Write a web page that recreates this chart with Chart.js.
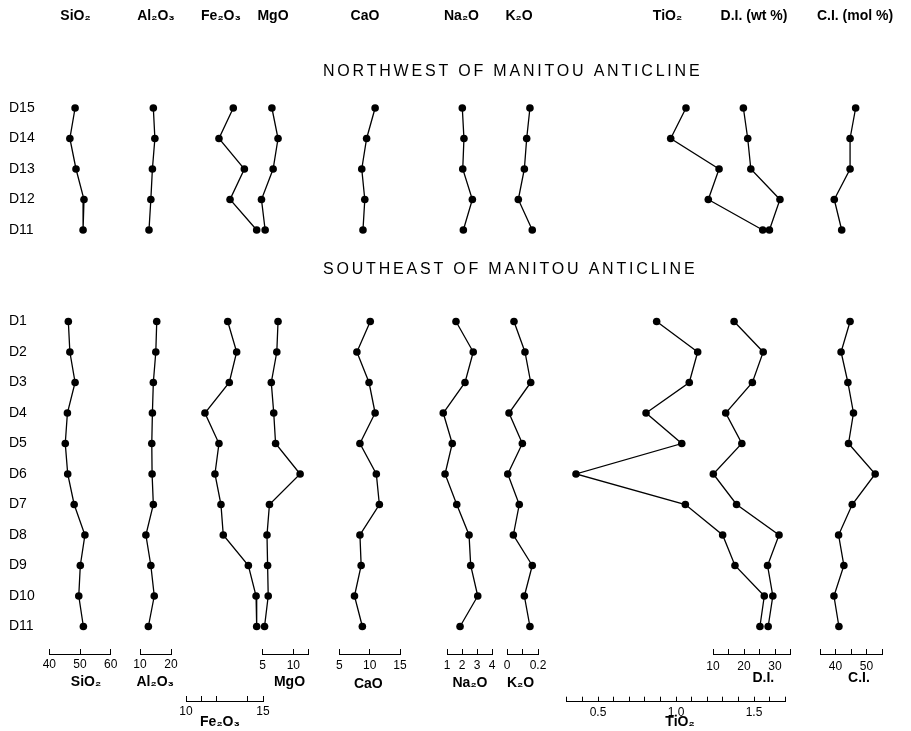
<!DOCTYPE html>
<html>
<head>
<meta charset="utf-8">
<script src="https://cdn.jsdelivr.net/npm/chart.js@4.4.1/dist/chart.umd.min.js"></script>
<style>
  html, body { margin: 0; padding: 0; background: #fff; overflow: hidden; width: 911px; height: 731px; }
  #wrap { position: relative; width: 911px; height: 731px; }
  #wrap canvas { position: absolute; left: 0; top: 0; }
</style>
</head>
<body>
<div id="wrap"></div>
<script>
// ---------------- DATA ----------------
const nwSamples = ['D15', 'D14', 'D13', 'D12', 'D11'];
const seSamples = ['D1', 'D2', 'D3', 'D4', 'D5', 'D6', 'D7', 'D8', 'D9', 'D10', 'D11'];
const rowLabels = [...nwSamples, '', '', ...seSamples];
const sectionTitles = ['NORTHWEST OF MANITOU ANTICLINE', 'SOUTHEAST OF MANITOU ANTICLINE'];

const sio2NW  = [48.4, 46.7, 48.7, 51.3, 51.0];
const sio2SE  = [46.2, 46.7, 48.4, 45.9, 45.2, 46.0, 48.1, 51.6, 50.1, 49.6, 51.1];
const al2o3NW = [14.3, 14.8, 14.0, 13.5, 12.9];
const al2o3SE = [15.4, 15.1, 14.3, 14.0, 13.8, 13.9, 14.3, 11.9, 13.5, 14.6, 12.7];
const fe2o3NW = [13.07, 12.14, 13.79, 12.86, 14.59];
const fe2o3SE = [12.71, 13.29, 12.81, 11.23, 12.14, 11.88, 12.27, 12.42, 14.05, 14.55, 14.59];
const mgoNW   = [6.5, 7.5, 6.7, 4.8, 5.4];
const mgoSE   = [7.5, 7.3, 6.4, 6.8, 7.1, 11.1, 6.1, 5.7, 5.8, 5.9, 5.3];
const caoNW   = [10.9, 9.5, 8.7, 9.2, 8.9];
const caoSE   = [10.1, 7.9, 9.9, 10.9, 8.4, 11.1, 11.6, 8.4, 8.6, 7.5, 8.8];
const na2oNW  = [2.02, 2.13, 2.05, 2.69, 2.09];
const na2oSE  = [1.6, 2.75, 2.2, 0.75, 1.35, 0.87, 1.65, 2.47, 2.58, 3.05, 1.87];
const k2oNW   = [0.148, 0.127, 0.112, 0.073, 0.163];
const k2oSE   = [0.045, 0.116, 0.153, 0.013, 0.099, 0.005, 0.079, 0.041, 0.163, 0.112, 0.148];
const tio2NW  = [1.064, 0.966, 1.276, 1.207, 1.556];
const tio2SE  = [0.876, 1.139, 1.085, 0.808, 1.037, 0.359, 1.06, 1.299, 1.378, 1.566, 1.538];
const diNW    = [19.8, 21.2, 22.2, 31.6, 28.2];
const diSE    = [16.8, 26.2, 22.7, 14.1, 19.3, 10.1, 17.6, 31.3, 27.6, 29.3, 27.8];
const ciNW    = [46.5, 44.7, 44.7, 39.6, 42.0];
const ciSE    = [44.7, 41.8, 44.0, 45.8, 44.2, 52.8, 45.4, 41.0, 42.7, 39.5, 41.1];

// tick values and tick labels
const sio2Ticks = [40, 50, 60];              const sio2TickLabels = ['40', '50', '60'];
const al2o3Ticks = [10, 20];                 const al2o3TickLabels = ['10', '20'];
const fe2o3Ticks = [10, 11, 12, 14, 15];     const fe2o3TickLabels = ['10', '', '', '', '15'];
const mgoTicks = [5, 10, 12.5];              const mgoTickLabels = ['5', '10', ''];
const caoTicks = [5, 10, 15];                const caoTickLabels = ['5', '10', '15'];
const na2oTicks = [1, 2, 3, 4];              const na2oTickLabels = ['1', '2', '3', '4'];
const k2oTicks = [0, 0.1, 0.2];              const k2oTickLabels = ['0', '', '0.2'];
const tio2Ticks = [0.3, 0.4, 0.5, 0.6, 0.7, 0.8, 0.9, 1.0, 1.1, 1.2, 1.3, 1.4, 1.5, 1.6, 1.7];
const tio2TickLabels = ['', '', '0.5', '', '', '', '', '1.0', '', '', '', '', '1.5', '', ''];
const diTicks = [10, 15, 20, 25, 30, 35];    const diTickLabels = ['10', '', '20', '', '30', ''];
const ciTicks = [35, 40, 45, 50, 55];        const ciTickLabels = ['', '40', '', '50', ''];

const variables = [
  { id: 'sio2',  header: 'SiO₂',  axisTitle: 'SiO₂',  nw: sio2NW,  se: sio2SE,  min: 40,  max: 60,   ticks: sio2Ticks,  tickLabels: sio2TickLabels },
  { id: 'al2o3', header: 'Al₂O₃', axisTitle: 'Al₂O₃', nw: al2o3NW, se: al2o3SE, min: 10,  max: 20,   ticks: al2o3Ticks, tickLabels: al2o3TickLabels },
  { id: 'fe2o3', header: 'Fe₂O₃', axisTitle: 'Fe₂O₃', nw: fe2o3NW, se: fe2o3SE, min: 10,  max: 15,   ticks: fe2o3Ticks, tickLabels: fe2o3TickLabels },
  { id: 'mgo',   header: 'MgO',   axisTitle: 'MgO',   nw: mgoNW,   se: mgoSE,   min: 5,   max: 12.5, ticks: mgoTicks,   tickLabels: mgoTickLabels },
  { id: 'cao',   header: 'CaO',   axisTitle: 'CaO',   nw: caoNW,   se: caoSE,   min: 5,   max: 15,   ticks: caoTicks,   tickLabels: caoTickLabels },
  { id: 'na2o',  header: 'Na₂O',  axisTitle: 'Na₂O',  nw: na2oNW,  se: na2oSE,  min: 1,   max: 4,    ticks: na2oTicks,  tickLabels: na2oTickLabels },
  { id: 'k2o',   header: 'K₂O',   axisTitle: 'K₂O',   nw: k2oNW,   se: k2oSE,   min: 0,   max: 0.2,  ticks: k2oTicks,   tickLabels: k2oTickLabels },
  { id: 'tio2',  header: 'TiO₂',  axisTitle: 'TiO₂',  nw: tio2NW,  se: tio2SE,  min: 0.3, max: 1.7,  ticks: tio2Ticks,  tickLabels: tio2TickLabels },
  { id: 'di',    header: 'D.I. (wt %)',  axisTitle: 'D.I.', nw: diNW, se: diSE, min: 10, max: 35,  ticks: diTicks,    tickLabels: diTickLabels },
  { id: 'ci',    header: 'C.I. (mol %)', axisTitle: 'C.I.', nw: ciNW, se: ciSE, min: 35, max: 55,  ticks: ciTicks,    tickLabels: ciTickLabels }
];

// ---------------- LAYOUT (pixel placement of each panel) ----------------
const W = 911, H = 760;
const ROW_TOP = 108, ROW_STEP = 30.5, AREA_TOP = 77.5;
const AXIS_H = 40, TICK_LEN = 5, HEADER_Y = 16.5;
const placement = {
  sio2:  { left: 49.3,  right: 110.7, axisY: 654,   labelGap: 11,   titleGap: 28,   headerX: 75.5,  titleX: 86 },
  al2o3: { left: 140,   right: 171,   axisY: 654,   labelGap: 11,   titleGap: 28.5, headerX: 156,   titleX: 155.3 },
  fe2o3: { left: 186,   right: 263,   axisY: 701,   labelGap: 10.3, titleGap: 21.5, headerX: 221,   titleX: 220 },
  mgo:   { left: 262.7, right: 308.7, axisY: 654,   labelGap: 11.5, titleGap: 27.7, headerX: 273,   titleX: 289.5 },
  cao:   { left: 339.3, right: 400,   axisY: 654,   labelGap: 11.5, titleGap: 30.5, headerX: 365,   titleX: 368.3 },
  na2o:  { left: 447,   right: 492,   axisY: 654,   labelGap: 12,   titleGap: 29,   headerX: 461.5, titleX: 470 },
  k2o:   { left: 507,   right: 538,   axisY: 654,   labelGap: 12,   titleGap: 29,   headerX: 519,   titleX: 520.6 },
  tio2:  { left: 566.8, right: 785.2, axisY: 701.7, labelGap: 10.6, titleGap: 20.8, headerX: 667.5, titleX: 680 },
  di:    { left: 713,   right: 790.5, axisY: 654,   labelGap: 13,   titleGap: 24,   headerX: 754,   titleX: 763.3 },
  ci:    { left: 820,   right: 882,   axisY: 654,   labelGap: 13,   titleGap: 24,   headerX: 855,   titleX: 859 }
};
const FRAME_BOTTOM = 654;

// ---------------- CHARTS ----------------
const FONT = '"Liberation Sans", Arial, Helvetica, sans-serif';
Chart.defaults.font.family = FONT;
Chart.defaults.color = '#000';

const wrap = document.getElementById('wrap');
function addCanvas() {
  const c = document.createElement('canvas');
  c.width = W; c.height = H;
  c.style.width = W + 'px'; c.style.height = H + 'px';
  wrap.appendChild(c);
  return c;
}
const rowAt = px => (px - ROW_TOP) / ROW_STEP;

const baseOptions = { responsive: false, animation: false, devicePixelRatio: 1, events: [] };

const lineStyle = {
  showLine: true, borderColor: '#000', borderWidth: 1.3, backgroundColor: '#000',
  pointRadius: 3.8, pointBorderWidth: 0, pointBackgroundColor: '#000', tension: 0, clip: false
};

// Section titles, drawn in the frame chart against its row scale
const sectionTitlePlugin = {
  id: 'sectionTitles',
  afterDraw(chart, args, opts) {
    const { ctx } = chart;
    const y = chart.scales.y;
    ctx.save();
    ctx.font = '16px ' + FONT;
    ctx.fillStyle = '#000';
    ctx.textAlign = 'left';
    ctx.textBaseline = 'middle';
    if ('letterSpacing' in ctx) ctx.letterSpacing = opts.spacing;
    opts.items.forEach(it => ctx.fillText(it.text, opts.x, y.getPixelForValue(it.row)));
    ctx.restore();
  }
};

// Column header (top) and axis title (below the x axis) of each panel
const panelLabelPlugin = {
  id: 'panelLabels',
  afterDraw(chart, args, opts) {
    const { ctx } = chart;
    const xs = chart.scales.x;
    ctx.save();
    ctx.font = 'bold 14px ' + FONT;
    ctx.fillStyle = '#000';
    ctx.textAlign = 'center';
    ctx.textBaseline = 'middle';
    ctx.fillText(opts.header, opts.headerX, HEADER_Y);
    ctx.fillText(opts.axisTitle, opts.titleX, xs.top + opts.titleGap);
    ctx.restore();
  }
};

new Chart(addCanvas(), {
  type: 'scatter',
  data: { datasets: [] },
  options: {
    ...baseOptions,
    layout: { padding: { left: 9, right: 0, top: AREA_TOP, bottom: H - FRAME_BOTTOM } },
    plugins: {
      legend: { display: false }, tooltip: { enabled: false }, title: { display: false },
      sectionTitles: {
        x: 323, spacing: '2.8px',
        items: [ { text: sectionTitles[0], row: -1.19 }, { text: sectionTitles[1], row: 5.31 } ]
      }
    },
    scales: {
      x: { display: false, min: 0, max: 1 },
      y: {
        type: 'linear', position: 'left', reverse: true,
        min: rowAt(AREA_TOP), max: rowAt(FRAME_BOTTOM),
        afterBuildTicks: s => { s.ticks = rowLabels.map((l, i) => ({ value: i })).filter(t => rowLabels[t.value]); },
        afterFit: s => { s.width = 40; },
        ticks: { autoSkip: false, crossAlign: 'far', padding: 0, font: { size: 14 }, color: '#000',
                 callback: v => rowLabels[v] },
        grid: { display: false }, border: { display: false }
      }
    }
  },
  plugins: [sectionTitlePlugin]
});

function makeVarChart(v) {
  const p = placement[v.id];
  const seStart = rowLabels.indexOf(seSamples[0]);
  new Chart(addCanvas(), {
    type: 'scatter',
    data: {
      datasets: [
        { label: v.header + ' NW', data: v.nw.map((x, i) => ({ x, y: i })), ...lineStyle },
        { label: v.header + ' SE', data: v.se.map((x, i) => ({ x, y: seStart + i })), ...lineStyle }
      ]
    },
    options: {
      ...baseOptions,
      layout: { padding: { left: p.left, right: W - p.right, top: AREA_TOP, bottom: H - p.axisY - AXIS_H } },
      plugins: {
        legend: { display: false }, tooltip: { enabled: false }, title: { display: false },
        panelLabels: { header: v.header, axisTitle: v.axisTitle, headerX: p.headerX, titleX: p.titleX, titleGap: p.titleGap }
      },
      scales: {
        x: {
          type: 'linear', position: 'bottom', min: v.min, max: v.max,
          afterBuildTicks: s => { s.ticks = v.ticks.map(t => ({ value: t })); },
          afterFit: s => { s.height = AXIS_H; },
          ticks: {
            autoSkip: false, maxRotation: 0, minRotation: 0, color: '#000',
            font: { size: 12, lineHeight: 1.2 },
            padding: p.labelGap + TICK_LEN - 12 * 1.2 / 2,
            callback: (val, idx) => v.tickLabels[idx]
          },
          grid: { display: true, drawOnChartArea: false, drawTicks: true, tickLength: -TICK_LEN, color: '#000', lineWidth: 1 },
          border: { display: true, color: '#000', width: 1 },
          title: { display: false }
        },
        y: { type: 'linear', display: false, reverse: true, min: rowAt(AREA_TOP), max: rowAt(p.axisY) }
      }
    },
    plugins: [panelLabelPlugin]
  });
}

variables.forEach(makeVarChart);
</script>
</body>
</html>
